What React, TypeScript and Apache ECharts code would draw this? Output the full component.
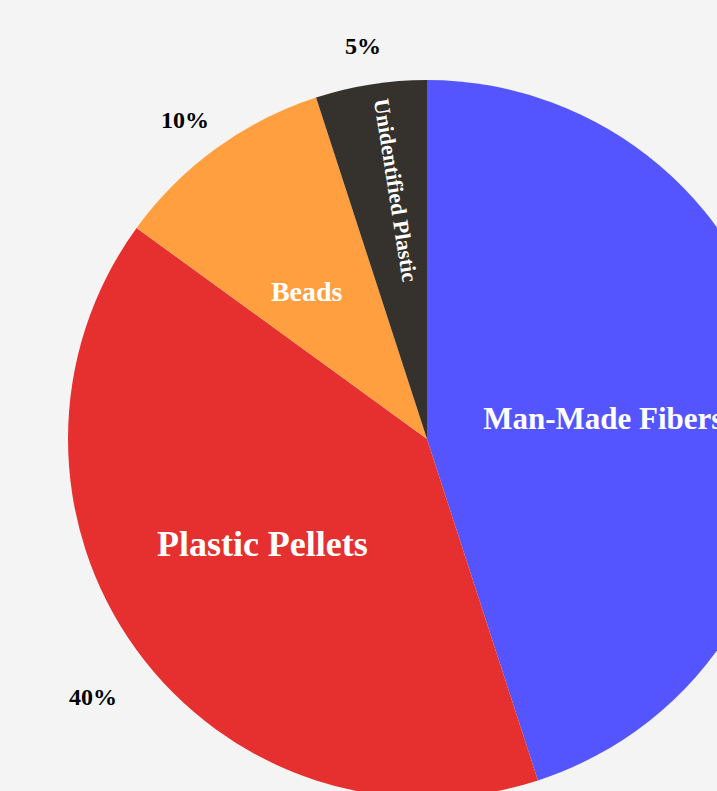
import React, { useEffect, useRef } from "react";
import * as echarts from "echarts";

const categories = ["Man-Made Fibers", "Plastic Pellets", "Beads", "Unidentified Plastic"];
const values = [45, 40, 10, 5];
const colors = ["#5555ff", "#e63030", "#ff9f40", "#35312c"];
const nameFontSizes = [31, 36, 28, 22];

const FONT = "'Liberation Serif', 'Times New Roman', serif";

export default function App() {
  const ref = useRef<HTMLDivElement>(null);

  useEffect(() => {
    if (!ref.current) return;
    const chart = echarts.init(ref.current, undefined, { renderer: "svg" });

    const nameOffsets: Record<string, number[]> = {
      "Man-Made Fibers": [-4, 8],
      "Plastic Pellets": [-17, -2],
      "Beads": [-13, 0],
      "Unidentified Plastic": [-68, -8],
    };

    const nameData = categories.map((name, i) => {
      const item: any = {
        name,
        value: values[i],
        itemStyle: { color: colors[i] },
        label: {
          fontSize: nameFontSizes[i],
          offset: nameOffsets[name],
        },
      };
      if (name === "Unidentified Plastic") {
        item.label.rotate = "radial";
      }
      return item;
    });

    const pctOffsets: Record<string, number[]> = {
      "Man-Made Fibers": [0, 0],
      "Plastic Pellets": [-8, 21],
      "Beads": [-5, 7],
      "Unidentified Plastic": [-1, 5],
    };

    const pctData = categories.map((name, i) => ({
      name,
      value: values[i],
      itemStyle: { color: "transparent" },
      label: { offset: pctOffsets[name] },
    }));

    chart.setOption({
      animation: false,
      backgroundColor: "#f4f4f4",
      series: [
        {
          type: "pie",
          center: [427, 439],
          radius: 359,
          startAngle: 90,
          clockwise: true,
          silent: true,
          label: {
            show: true,
            position: "inside",
            formatter: "{b}",
            color: "#ffffff",
            fontFamily: FONT,
            fontWeight: "bold",
          },
          labelLine: { show: false },
          itemStyle: { borderWidth: 0 },
          data: nameData,
        },
        {
          type: "pie",
          center: [427, 439],
          radius: [380, 420],
          startAngle: 90,
          clockwise: true,
          silent: true,
          label: {
            show: true,
            position: "inside",
            formatter: "{d}%",
            color: "#000000",
            fontFamily: FONT,
            fontWeight: "bold",
            fontSize: 24,
          },
          labelLine: { show: false },
          itemStyle: { borderWidth: 0 },
          data: pctData,
        },
      ],
    });

    return () => chart.dispose();
  }, []);

  return (
    <div
      ref={ref}
      style={{ position: "fixed", left: 0, top: 0, width: 717, height: 791 }}
    />
  );
}
